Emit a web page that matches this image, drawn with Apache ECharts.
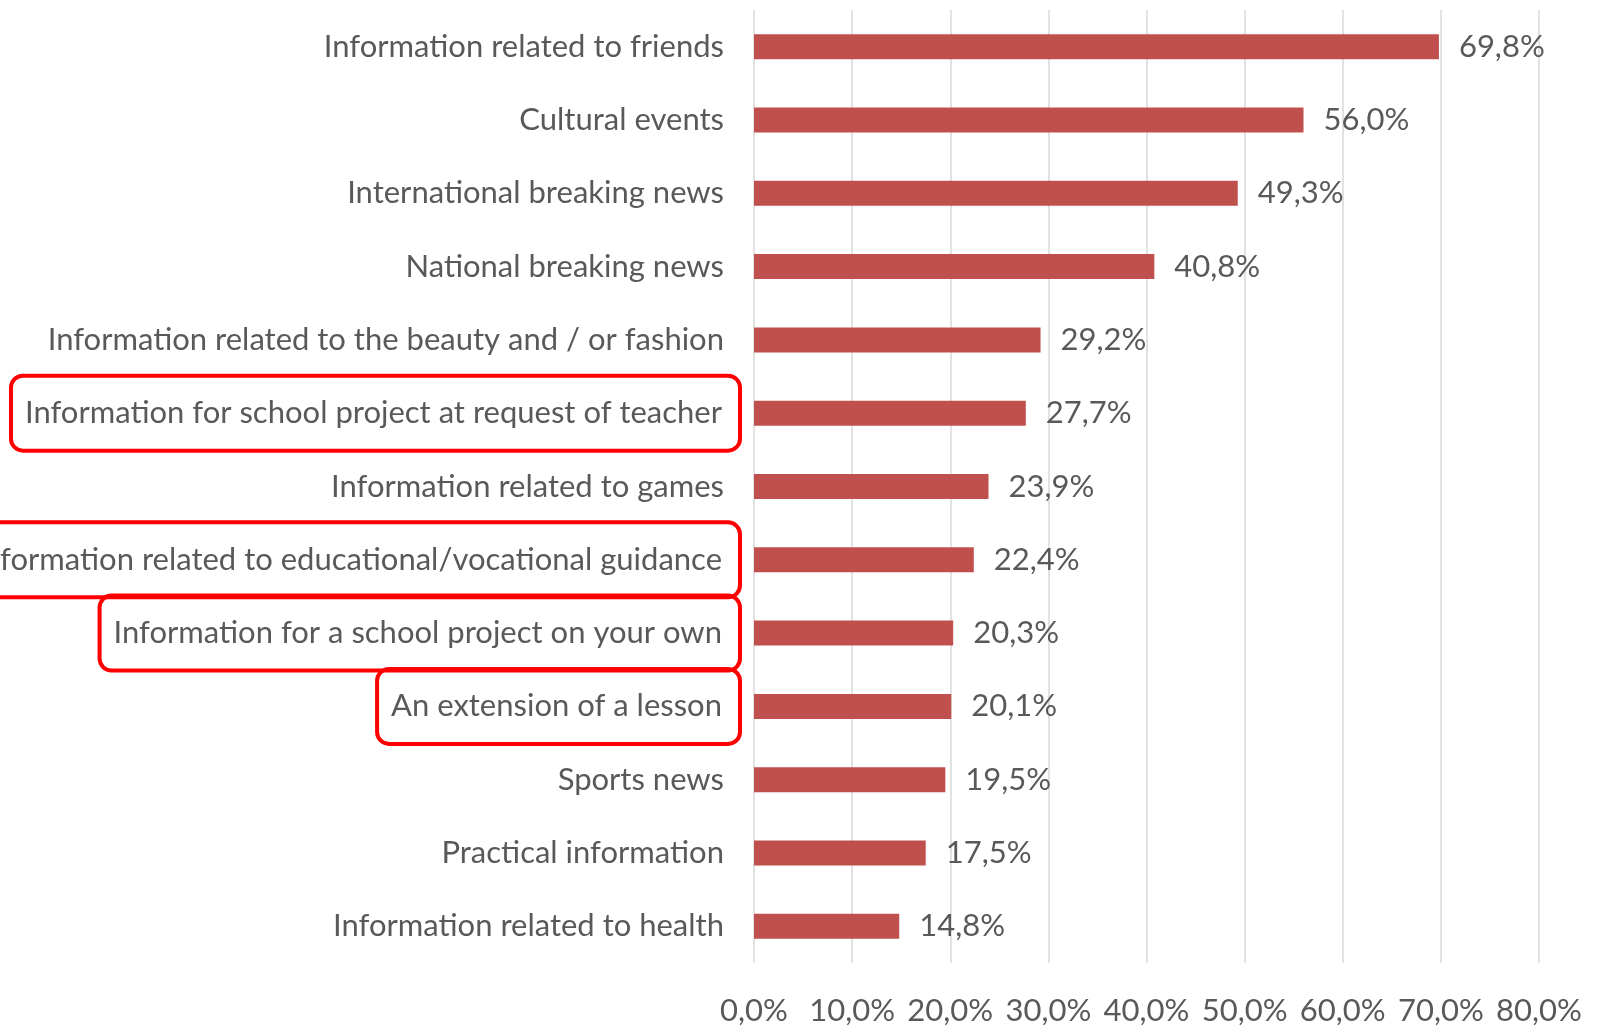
<!DOCTYPE html>
<html>
<head>
<meta charset="utf-8">
<script src="https://cdn.jsdelivr.net/npm/echarts@6/dist/echarts.min.js"></script>
<style>
html,body{margin:0;padding:0;background:#fff;}
#chart{width:1599px;height:1031px;}
</style>
</head>
<body>
<div id="chart"></div>
<script>
const categories = [
  "Information related to friends",
  "Cultural events",
  "International breaking news",
  "National breaking news",
  "Information related to the beauty and / or fashion",
  "Information for school project at request of teacher",
  "Information related to games",
  "Information related to educational/vocational guidance",
  "Information for a school project on your own",
  "An extension of a lesson",
  "Sports news",
  "Practical information",
  "Information related to health"
];
const values = [69.8, 56.0, 49.3, 40.8, 29.2, 27.7, 23.9, 22.4, 20.3, 20.1, 19.5, 17.5, 14.8];
const highlighted = [
  "Information for school project at request of teacher",
  "Information related to educational/vocational guidance",
  "Information for a school project on your own",
  "An extension of a lesson"
];
const xTicks = [0, 10, 20, 30, 40, 50, 60, 70, 80];

const fmt = v => v.toFixed(1).replace('.', ',') + '%';
const FONT = 'Lato';
const TXT = '#595959';

const chart = echarts.init(document.getElementById('chart'), null, {renderer: 'canvas'});
chart.setOption({
  animation: false,
  backgroundColor: '#fff',
  grid: {left: 754, right: 60, top: 10, bottom: 68, containLabel: false, outerBoundsMode: 'none'},
  xAxis: {
    type: 'value',
    min: xTicks[0],
    max: xTicks[xTicks.length - 1],
    interval: 10,
    axisLine: {show: false},
    axisTick: {show: false},
    splitLine: {show: true, lineStyle: {color: '#d9d9d9', width: 1.5}},
    axisLabel: {
      formatter: v => fmt(v),
      color: TXT,
      fontFamily: FONT,
      fontSize: 31,
      margin: 32
    }
  },
  yAxis: {
    type: 'category',
    data: categories,
    inverse: true,
    axisLine: {show: false},
    axisTick: {show: false},
    axisLabel: {
      color: TXT,
      fontFamily: FONT,
      fontSize: 31,
      margin: 14,
      formatter: v => highlighted.includes(v) ? '{hl|' + v + '}' : '{n|' + v + '}',
      rich: {
        n: {color: TXT, fontFamily: FONT, fontSize: 31, padding: [0, 16, 0, 0]},
        hl: {
          color: TXT, fontFamily: FONT, fontSize: 31,
          borderColor: '#ff0000', borderWidth: 4, borderRadius: 12,
          padding: [22, 18, 22, 14]
        }
      }
    }
  },
  series: [{
    type: 'bar',
    data: values,
    barWidth: 25,
    itemStyle: {color: '#c0504d'},
    label: {
      show: true,
      position: 'right',
      distance: 20,
      formatter: p => fmt(p.value),
      color: TXT,
      fontFamily: FONT,
      fontSize: 31
    }
  }]
});
</script>
</body>
</html>
